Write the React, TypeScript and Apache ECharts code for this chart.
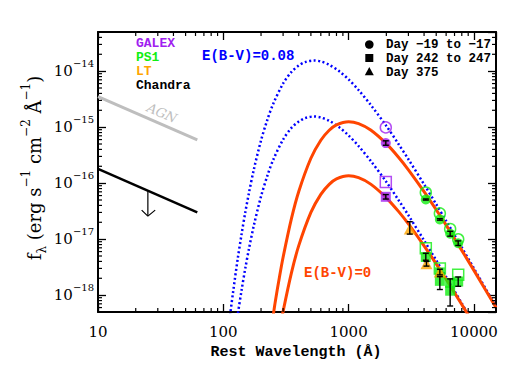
import React, { useEffect, useRef } from 'react';
import * as echarts from 'echarts';

// Axis ranges
const X_MIN = 10;
const X_MAX = 15000;
const Y_MIN = 5e-19;
const Y_MAX = 5e-14;

// Tick labels
const xTickValues = [10, 100, 1000, 10000];
const xTickLabels = ['10', '100', '1000', '10000'];
const yTickExps = [-18, -17, -16, -15, -14];
const yTickLabels = ['−18', '−17', '−16', '−15', '−14'];

// Blackbody curves (E(B-V)=0.08, blue dotted)
const blueHiWave = [110, 114, 120, 130, 140, 150, 160, 175, 200, 225, 250, 300, 350, 400, 450, 528, 600, 700, 850, 1000, 1200, 1500, 2000, 2500, 3000, 4000, 5000, 6000, 8000, 10000, 15000];
const blueHiFlux = [2.5e-19, 4.9e-19, 1.19e-18, 4.3e-18, 1.24e-17, 3.07e-17, 6.6e-17, 1.73e-16, 5.8e-16, 1.37e-15, 2.6e-15, 6.0e-15, 9.7e-15, 1.26e-14, 1.45e-14, 1.55e-14, 1.49e-14, 1.3e-14, 9.8e-15, 7.1e-15, 4.6e-15, 2.5e-15, 1.05e-15, 5.0e-16, 2.67e-16, 9.5e-17, 4.2e-17, 2.12e-17, 7.1e-18, 3.0e-18, 6.2e-19];
const blueLoWave = [125, 130, 140, 150, 160, 175, 200, 225, 250, 300, 350, 400, 450, 528, 600, 700, 850, 1000, 1200, 1500, 2000, 2500, 3000, 4000, 5000, 6000, 8000, 10000];
const blueLoFlux = [2.3e-19, 4.3e-19, 1.24e-18, 3.07e-18, 6.6e-18, 1.73e-17, 5.8e-17, 1.37e-16, 2.6e-16, 6.0e-16, 9.7e-16, 1.26e-15, 1.45e-15, 1.55e-15, 1.49e-15, 1.3e-15, 9.8e-16, 7.1e-16, 4.6e-16, 2.5e-16, 1.05e-16, 5.0e-17, 2.67e-17, 9.5e-18, 4.2e-18, 2.12e-18, 7.1e-19, 3.0e-19];

// Blackbody curves, E(B-V)=0 (orange-red solid)
const redHiWave = [245, 250, 260, 280, 300, 350, 400, 500, 600, 700, 800, 1000, 1200, 1500, 2000, 2500, 3000, 4000, 5000, 6000, 8000, 10000, 15000];
const redHiFlux = [3.2e-19, 4.3e-19, 7.7e-19, 2.05e-18, 4.75e-18, 2.34e-17, 7.1e-17, 2.78e-16, 5.84e-16, 8.8e-16, 1.1e-15, 1.25e-15, 1.16e-15, 8.9e-16, 5.07e-16, 2.9e-16, 1.73e-16, 7.06e-17, 3.35e-17, 1.78e-17, 6.3e-18, 2.77e-18, 6.0e-19];
const redLoWave = [280, 300, 350, 400, 500, 600, 700, 800, 1000, 1200, 1500, 2000, 2500, 3000, 4000, 5000, 6000, 8000, 10000];
const redLoFlux = [2.2e-19, 5.1e-19, 2.52e-18, 7.65e-18, 3.0e-17, 6.3e-17, 9.5e-17, 1.19e-16, 1.35e-16, 1.25e-16, 9.6e-17, 5.47e-17, 3.13e-17, 1.87e-17, 7.6e-18, 3.62e-18, 1.92e-18, 6.8e-19, 3.0e-19];

// X-ray
const agnWave = [10, 62];
const agnFlux = [3.5e-15, 5.9e-16];
const chandraWave = [10, 62];
const chandraFlux = [1.8e-16, 3.0e-17];
const arrowWave = [25, 25];
const arrowFlux = [7.2e-17, 2.62e-17];
const arrowHeadWave = [22.3, 25, 28.6];
const arrowHeadFlux = [3.3e-17, 2.58e-17, 3.3e-17];

// Photometry
const galexWave = [1980];
const galexEarlyOpen = [9.9e-16];
const galexEarlyFilled = [5.2e-16];
const galexLateOpen = [1.05e-16];
const galexLateFilled = [5.7e-17];

const ps1Wave = [4130, 5346, 6460, 7490];
const ps1EarlyOpen = [6.8e-17, 2.88e-17, 1.52e-17, 9.95e-18];
const ps1EarlyFilled = [5.1e-17, 2.25e-17, 1.25e-17, 8.45e-18];
const ps1LateOpenWave = [4130, 5346, 7490];
const ps1LateOpen = [6.9e-18, 3.0e-18, 2.32e-18];
const ps1LateFilledWave = [4130, 5346, 5346, 6460, 6460, 7490];
const ps1LateFilled = [4.8e-18, 2.55e-18, 1.8e-18, 1.65e-18, 1.2e-18, 1.75e-18];

const ltWave = [3076, 4180, 5346];
const ltFlux = [1.52e-17, 3.65e-18, 2.6e-18];

// Error bars: wavelength, low, high
const errWave = [1980, 1980, 4130, 5346, 6460, 7490, 4130, 5346, 6460, 7490, 3076, 4180, 5346];
const errLow = [4.75e-16, 5.2e-17, 4.98e-17, 2.18e-17, 1.13e-17, 7.7e-18, 4.2e-18, 1.26e-18, 6.4e-19, 1.44e-18, 1.23e-17, 3.3e-18, 2.3e-18];
const errHigh = [5.7e-16, 6.25e-17, 5.22e-17, 2.32e-17, 1.38e-17, 9.3e-18, 5.6e-18, 2.14e-18, 1.95e-18, 2.11e-18, 2.05e-17, 4.0e-18, 2.9e-18];

const PURPLE = '#a020f0';
const GREEN = '#11ee11';
const ORANGE = '#ffa500';
const RED = '#ff4500';
const BLUE = '#0000ff';
const GRAY = '#bebebe';

const zip = (a: number[], b: number[]) => a.map((v, i) => [v, b[i]]);

function minorValues(lo: number, hi: number) {
  const out: number[] = [];
  for (let e = Math.floor(Math.log10(lo)); e <= Math.ceil(Math.log10(hi)); e++) {
    for (let m = 2; m <= 9; m++) {
      const v = m * Math.pow(10, e);
      if (v > lo && v < hi) out.push(v);
    }
  }
  return out;
}

export default function App() {
  const ref = useRef<HTMLDivElement>(null);
  useEffect(() => {
    if (!ref.current) return;
    const chart = echarts.init(ref.current, undefined, { renderer: 'svg' });

    const xLabel = (v: number) => {
      for (let i = 0; i < xTickValues.length; i++) {
        if (Math.abs(Math.log10(v) - Math.log10(xTickValues[i])) < 1e-6) return xTickLabels[i];
      }
      return '';
    };
    const yLabel = (v: number) => {
      const e = Math.log10(v);
      for (let i = 0; i < yTickExps.length; i++) {
        if (Math.abs(e - yTickExps[i]) < 1e-6) return `{b|10}{s|${yTickLabels[i]}}`;
      }
      return '';
    };

    const axisCommon = {
      type: 'log',
      logBase: 10,
      splitLine: { show: false },
      axisLine: { show: true, lineStyle: { color: '#000', width: 2 } },
      axisTick: { show: true, inside: true, length: 8, lineStyle: { color: '#000', width: 1.3 } },
    };

    const lineSeries = (data: number[][], color: string, width: number, type: any, smooth: number | boolean) => ({
      type: 'line',
      data,
      symbol: 'none',
      smooth,
      clip: true,
      lineStyle: { color, width, type },
      z: 2,
      silent: true,
    });

    const scatter = (data: number[][], symbol: string, size: number | number[], color: string, open: boolean, z = 4) => ({
      type: 'scatter',
      data,
      symbol,
      symbolSize: size,
      itemStyle: open
        ? { color: 'rgba(0,0,0,0)', borderColor: color, borderWidth: 1.5 }
        : { color, borderWidth: 0 },
      z,
      silent: true,
    });

    const xMinor = minorValues(X_MIN, X_MAX).map((v) => [v, Y_MIN]);
    const yMinor = minorValues(Y_MIN, Y_MAX).map((v) => [X_MIN, v]);

    const tickStyle = { stroke: '#000', lineWidth: 1.2 };
    const legendText = (text: string, top: number, fill: string) => ({
      type: 'text', left: 136, top,
      style: { text, fill, fontFamily: 'Liberation Mono', fontWeight: 'bold', fontSize: 13 },
    });

    const option: any = {
      animation: false,
      grid: { left: 98, right: 29, top: 32, bottom: 63, containLabel: false, outerBoundsMode: 'none' },
      xAxis: [
        {
          ...axisCommon,
          min: X_MIN,
          max: X_MAX,
          position: 'bottom',
          axisLabel: {
            formatter: xLabel,
            fontFamily: 'DejaVu Serif',
            fontSize: 15,
            color: '#000',
            margin: 12,
            showMinLabel: true,
            showMaxLabel: false,
            hideOverlap: false,
          },
        },
        {
          ...axisCommon,
          min: X_MIN,
          max: X_MAX,
          position: 'top',
          axisLabel: { show: false },
        },
      ],
      yAxis: [
        {
          ...axisCommon,
          min: Y_MIN,
          max: Y_MAX,
          position: 'left',
          axisLabel: {
            formatter: yLabel,
            margin: 4,
            showMinLabel: false,
            showMaxLabel: false,
            hideOverlap: false,
            rich: {
              b: { fontFamily: 'DejaVu Serif', fontSize: 15, color: '#000', lineHeight: 26 },
              s: { fontFamily: 'DejaVu Serif', fontSize: 10, color: '#000', verticalAlign: 'top', lineHeight: 12 },
            },
          },
        },
        {
          ...axisCommon,
          min: Y_MIN,
          max: Y_MAX,
          position: 'right',
          axisLabel: { show: false },
        },
      ],
      series: [
        lineSeries(zip(agnWave, agnFlux), GRAY, 3, 'solid', false),
        lineSeries(zip(chandraWave, chandraFlux), '#000', 2.5, 'solid', false),
        lineSeries(zip(arrowWave, arrowFlux), '#000', 1.2, 'solid', false),
        lineSeries(zip(arrowHeadWave, arrowHeadFlux), '#000', 1.2, 'solid', false),
        lineSeries(zip(blueHiWave, blueHiFlux), BLUE, 2.5, [2, 2.5], 0.3),
        lineSeries(zip(blueLoWave, blueLoFlux), BLUE, 2.5, [2, 2.5], 0.3),
        lineSeries(zip(redHiWave, redHiFlux), RED, 3, 'solid', 0.3),
        lineSeries(zip(redLoWave, redLoFlux), RED, 3, 'solid', 0.3),
        // photometry, filled then open
        scatter(zip(galexWave, galexEarlyFilled), 'circle', 10, PURPLE, false),
        scatter(zip(galexWave, galexLateFilled), 'rect', 10, PURPLE, false),
        scatter(zip(ps1Wave, ps1EarlyFilled), 'circle', 10, GREEN, false),
        scatter(zip(ps1LateFilledWave, ps1LateFilled), 'rect', 10, GREEN, false),
        scatter(zip(ltWave, ltFlux), 'triangle', [12, 11], ORANGE, false, 5),
        scatter(zip(galexWave, galexEarlyOpen), 'circle', 11, PURPLE, true),
        scatter(zip(galexWave, galexLateOpen), 'rect', 11, PURPLE, true),
        scatter(zip(ps1Wave, ps1EarlyOpen), 'circle', 11, GREEN, true),
        scatter(zip(ps1LateOpenWave, ps1LateOpen), 'rect', 11, GREEN, true),
        {
          type: 'custom',
          data: errWave.map((w, i) => [w, errLow[i], errHigh[i]]),
          encode: { x: 0, y: [1, 2] },
          z: 6,
          silent: true,
          renderItem: (params: any, api: any) => {
            const x = api.value(0);
            const p1 = api.coord([x, api.value(1)]);
            const p2 = api.coord([x, api.value(2)]);
            const w = 3;
            const st = { stroke: '#000', lineWidth: 1.4 };
            return {
              type: 'group',
              children: [
                { type: 'line', shape: { x1: p1[0], y1: p1[1], x2: p2[0], y2: p2[1] }, style: st },
                { type: 'line', shape: { x1: p1[0] - w, y1: p1[1], x2: p1[0] + w, y2: p1[1] }, style: st },
                { type: 'line', shape: { x1: p2[0] - w, y1: p2[1], x2: p2[0] + w, y2: p2[1] }, style: st },
              ],
            };
          },
        },
        {
          type: 'custom',
          data: xMinor,
          encode: { x: 0, y: 1 },
          z: 7,
          silent: true,
          renderItem: (params: any, api: any) => {
            const v = api.value(0);
            const b = api.coord([v, Y_MIN]);
            const t = api.coord([v, Y_MAX]);
            return {
              type: 'group',
              children: [
                { type: 'line', shape: { x1: b[0], y1: b[1], x2: b[0], y2: b[1] - 4 }, style: tickStyle },
                { type: 'line', shape: { x1: t[0], y1: t[1], x2: t[0], y2: t[1] + 4 }, style: tickStyle },
              ],
            };
          },
        },
        {
          type: 'custom',
          data: yMinor,
          encode: { x: 0, y: 1 },
          z: 7,
          silent: true,
          renderItem: (params: any, api: any) => {
            const v = api.value(1);
            const l = api.coord([X_MIN, v]);
            const r = api.coord([X_MAX, v]);
            return {
              type: 'group',
              children: [
                { type: 'line', shape: { x1: l[0], y1: l[1], x2: l[0] + 4, y2: l[1] }, style: tickStyle },
                { type: 'line', shape: { x1: r[0], y1: r[1], x2: r[0] - 4, y2: r[1] }, style: tickStyle },
              ],
            };
          },
        },
      ],
      graphic: [
        // left legend
        legendText('GALEX', 36.5, PURPLE),
        legendText('PS1', 50.5, GREEN),
        legendText('LT', 64.5, ORANGE),
        legendText('Chandra', 78.5, '#000'),
        { type: 'text', left: 202, top: 49, style: { text: 'E(B-V)=0.08', fill: BLUE, font: 'bold 14px "Liberation Mono"' } },
        { type: 'text', left: 304, top: 266, style: { text: 'E(B-V)=0', fill: RED, font: 'bold 14px "Liberation Mono"' } },
        {
          type: 'text', x: 162, y: 113, rotation: -0.41,
          style: { text: 'AGN', fill: GRAY, font: 'italic 13px "DejaVu Serif"', textAlign: 'center', textVerticalAlign: 'middle' },
        },
        // right legend
        { type: 'circle', shape: { cx: 369.3, cy: 44.5, r: 4.3 }, style: { fill: '#000' } },
        { type: 'rect', shape: { x: 365.3, y: 54, width: 8, height: 8 }, style: { fill: '#000' } },
        { type: 'polygon', shape: { points: [[369.3, 67], [364.8, 75.3], [373.8, 75.3]] }, style: { fill: '#000' } },
        {
          type: 'text', left: 386, top: 38,
          style: {
            text: 'Day −19 to −17\nDay 242 to 247\nDay 375',
            fill: '#000',
            fontFamily: 'Liberation Mono',
            fontWeight: 'bold',
            fontSize: 12.5,
            lineHeight: 14,
          },
        },
        // axis titles
        {
          type: 'text', x: 296, y: 352,
          style: { text: 'Rest Wavelength (Å)', fill: '#000', font: 'bold 15px "Liberation Mono"', textAlign: 'center', textVerticalAlign: 'middle' },
        },
        {
          type: 'text', x: 34, y: 168, rotation: Math.PI / 2,
          style: {
            text: '{t|f}{sub|λ}{t| (erg s}{sup|−1}{t| cm}{sup|−2}{t| Å}{sup|−1}{t|)}',
            textAlign: 'center',
            textVerticalAlign: 'middle',
            fill: '#000',
            rich: {
              t: { fontFamily: 'DejaVu Serif', fontSize: 18, lineHeight: 28, fill: '#000' },
              sub: { fontFamily: 'DejaVu Serif', fontSize: 12, lineHeight: 14, verticalAlign: 'bottom', fill: '#000' },
              sup: { fontFamily: 'DejaVu Serif', fontSize: 12, lineHeight: 14, verticalAlign: 'top', fill: '#000' },
            },
          },
        },
      ],
    };

    chart.setOption(option);
    return () => chart.dispose();
  }, []);

  return (
    <div
      ref={ref}
      style={{ position: 'absolute', left: 0, top: 0, width: 525, height: 375, background: '#fff' }}
    />
  );
}
